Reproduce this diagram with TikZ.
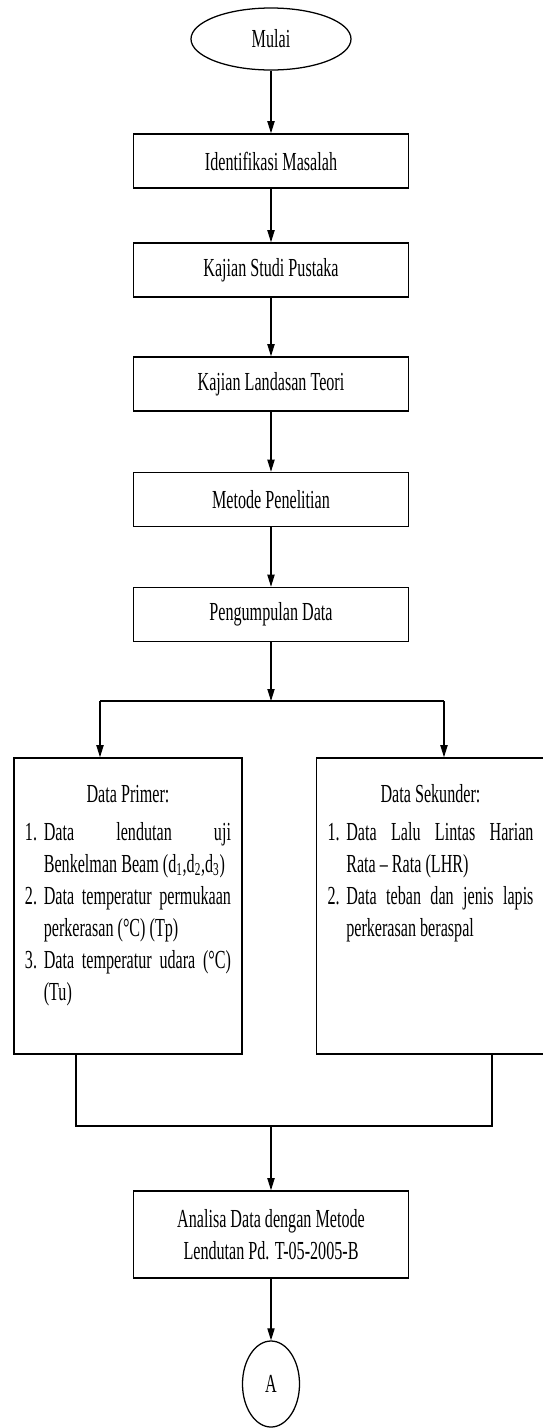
\documentclass[tikz,border=0pt]{standalone}
\usepackage{fontspec}
\setmainfont{Liberation Serif}[FakeStretch=0.62]
\usetikzlibrary{shapes.geometric,arrows.meta}

% numbered item with hanging indent
\newcommand{\butir}[2]{\par\hangindent=0.47cm\hangafter=1\noindent\makebox[0.47cm][l]{#1}#2\par}
% content of a data panel: title, then list
\newcommand{\isipanel}[2]{\parbox[c][7.4cm][t]{5.15cm}{\vspace*{0.5625cm}{\centering\strut#1\par}\vspace{0.125cm}#2}}

\begin{document}
\begin{tikzpicture}[
    font=\fontsize{18.5}{22.8}\selectfont,
    terminal/.style={
        ellipse,
        draw=black,
        line width=0.9pt,
        minimum width=4cm,
        minimum height=1.55cm,
        inner sep=0pt
    },
    process/.style={rectangle, draw=black, line width=1.1pt, minimum width=6.875cm, minimum height=1.35cm, align=center, inner sep=0pt},
    datapanel/.style={rectangle, draw=black, line width=1.1pt, minimum width=5.7cm, minimum height=7.4cm, inner sep=0pt},
    offpage/.style={ellipse, draw=black, line width=0.9pt, minimum width=1.425cm, minimum height=2.15cm, inner sep=0pt},
    flow/.style={line width=0.8pt, -{Triangle[length=0.3cm,width=0.18cm]}},
    link/.style={line width=0.8pt}
]
\useasboundingbox (0,0) rectangle (13.575,-35.7);

% Start
\node[terminal] (mulai) at (6.775, -0.975) {Mulai};

% Main steps
\node[process] (identifikasi) at (6.775, -4.025) {Identifikasi Masalah};
\node[process] (studi) at (6.775, -6.75) {Kajian Studi Pustaka};
\node[process] (teori) at (6.775, -9.6) {Kajian Landasan Teori};
\node[process] (metode) at (6.775, -12.4875) {Metode Penelitian};
\node[process] (pengumpulan) at (6.775, -15.3625) {Pengumpulan Data};

\draw[flow] (mulai) -- (identifikasi);
\draw[flow] (identifikasi) -- (studi);
\draw[flow] (studi) -- (teori);
\draw[flow] (teori) -- (metode);
\draw[flow] (metode) -- (pengumpulan);

% Data panels
\node[datapanel] (primer) at (3.2, -22.65) {\isipanel{Data Primer:}{%
    \butir{1.}{Data lendutan uji\linebreak Benkelman Beam (d\textsubscript{1},d\textsubscript{2},d\textsubscript{3})}
    \butir{2.}{Data temperatur permukaan\linebreak perkerasan (°C) (Tp)}
    \butir{3.}{Data temperatur udara (°C)\linebreak (Tu)}}};
\node[datapanel] (sekunder) at (10.7625, -22.65) {\isipanel{Data Sekunder:}{%
    \butir{1.}{Data Lalu Lintas Harian\linebreak Rata -- Rata (LHR)}
    \butir{2.}{Data teban dan jenis lapis\linebreak perkerasan beraspal}}};

% Split into the two panels
\coordinate (split) at (6.775, -17.525);
\coordinate (splitL) at (2.5, -17.525);
\coordinate (splitR) at (11.1, -17.525);
\draw[flow] (pengumpulan) -- (split);
\draw[link] (splitL) -- (splitR);
\draw[flow] (splitL) -- (splitL |- primer.north);
\draw[flow] (splitR) -- (splitR |- sekunder.north);

% Join back
\coordinate (join) at (6.775, -28.15);
\coordinate (joinL) at (1.9, -28.15);
\coordinate (joinR) at (12.3, -28.15);
\draw[link] (primer.south -| joinL) -- (joinL) -- (joinR) -- (sekunder.south -| joinR);

% Analysis and page connector
\node[process, minimum height=2.175cm] (analisa) at (6.775, -30.8625) {Analisa Data dengan Metode\\Lendutan Pd. T-05-2005-B};
\node[offpage] (konektor) at (6.775, -34.6) {A};

\draw[flow] (join) -- (analisa);
\draw[flow] (analisa) -- (konektor);

\end{tikzpicture}
\end{document}
